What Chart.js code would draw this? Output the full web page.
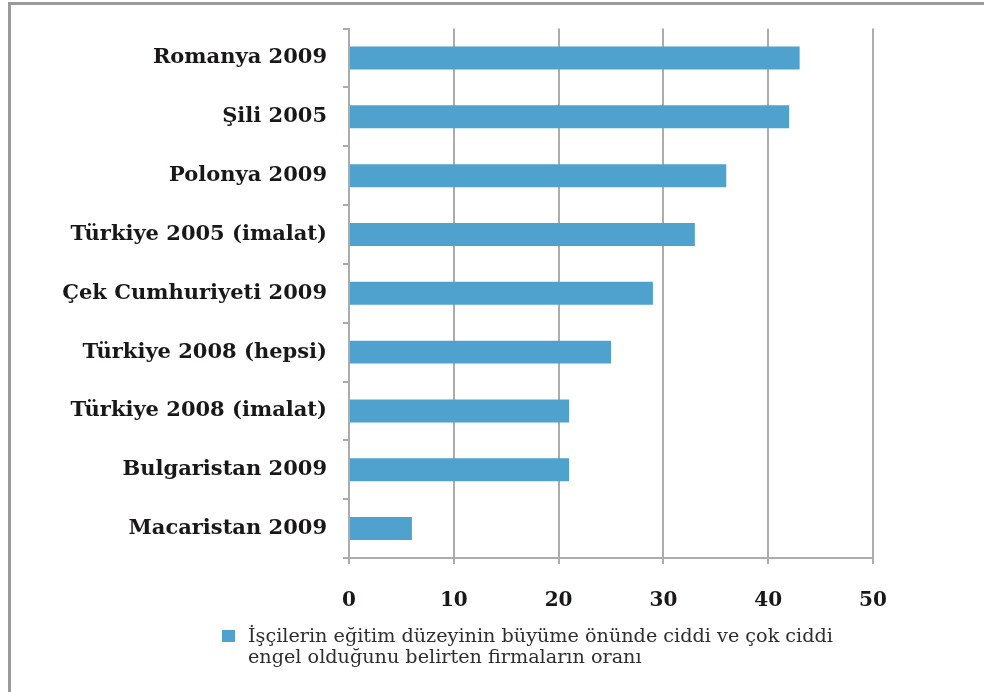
<!DOCTYPE html>
<html>
<head>
<meta charset="utf-8">
<script src="https://cdn.jsdelivr.net/npm/chart.js@4"></script>
<style>
  html, body { margin: 0; padding: 0; background: #fff; overflow: hidden; }
  #wrap { position: relative; width: 984px; height: 692px; }
  #frame { position: absolute; left: 8px; top: 2px; width: 1000px; height: 720px;
           border: 3px solid #9a9a9a; box-sizing: border-box; }
  canvas { position: absolute; left: 0; top: 0; }
  #legend { position: absolute; left: 222px; top: 625px; font-family: 'DejaVu Serif', serif;
            font-size: 19.2px; line-height: 21px; color: #2e2e2e; }
  #legend .box { position: absolute; left: 0; top: 5px; width: 13px; height: 12px; background: #4ea2cd; }
  #legend .txt { margin-left: 26px; }
</style>
</head>
<body>
<div id="wrap">
  <div id="frame"></div>
  <canvas id="chart" width="984" height="692"></canvas>
  <div id="legend"><span class="box"></span><div class="txt">İşçilerin eğitim düzeyinin büyüme önünde ciddi ve çok ciddi<br>engel olduğunu belirten firmaların oranı</div></div>
</div>
<script>
// categories and values
const countries = ['Romanya 2009', 'Şili 2005', 'Polonya 2009', 'Türkiye 2005 (imalat)',
  'Çek Cumhuriyeti 2009', 'Türkiye 2008 (hepsi)', 'Türkiye 2008 (imalat)', 'Bulgaristan 2009', 'Macaristan 2009'];
const shares = [43, 42, 36, 33, 29, 25, 21, 21, 6];
const xTicks = [0, 10, 20, 30, 40, 50];

const gray = '#acacac';

const ctx = document.getElementById('chart').getContext('2d');
const chart = new Chart(ctx, {
  type: 'bar',
  data: {
    labels: countries,
    datasets: [{
      label: 'İşçilerin eğitim düzeyinin büyüme önünde ciddi ve çok ciddi engel olduğunu belirten firmaların oranı',
      data: shares,
      backgroundColor: '#4ea2cd',
      borderWidth: 0,
      categoryPercentage: 1,
      barPercentage: 0.39
    }]
  },
  options: {
    indexAxis: 'y',
    responsive: false,
    animation: false,
    layout: { padding: { top: 28, right: 111, bottom: 0, left: 0 } },
    plugins: { legend: { display: false }, tooltip: { enabled: false } },
    scales: {
      x: {
        min: 0,
        max: 50,
        afterBuildTicks: function (scale) {
          scale.ticks = xTicks.map(v => ({ value: v }));
        },
        afterFit: function (scale) { scale.height = 134; },
        grid: { color: gray, lineWidth: 2, tickLength: 6, drawTicks: true },
        border: { color: gray, width: 2 },
        ticks: {
          padding: 25,
          color: '#1a1718',
          font: { family: 'DejaVu Serif', size: 20, weight: 'bold' }
        }
      },
      y: {
        afterFit: function (scale) { scale.width = 349; },
        grid: { drawOnChartArea: false, color: gray, lineWidth: 2, tickLength: 6, offset: true },
        border: { color: gray, width: 2 },
        ticks: {
          padding: 16,
          color: '#1a1718',
          font: { family: 'DejaVu Serif', size: 21, weight: 'bold' }
        }
      }
    }
  }
});
</script>
</body>
</html>
